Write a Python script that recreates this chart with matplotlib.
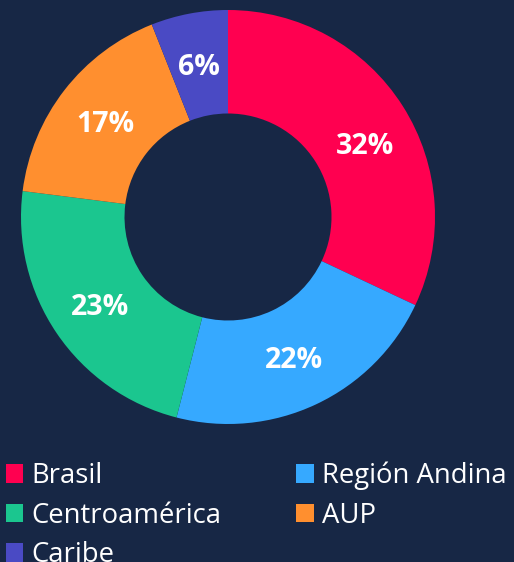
import numpy as np
import matplotlib.pyplot as plt
from matplotlib.patches import Patch

regions = ['Brasil', 'Región Andina', 'Centroamérica', 'AUP', 'Caribe']
shares = [32, 22, 23, 17, 6]
colors = ['#FF0050', '#36A9FF', '#1BC68F', '#FF8F2F', '#4A4AC4']
legend_order = [0, 2, 4, 1, 3]  # column-wise fill for 2 columns

bg = '#172745'
W, H = 514, 562

fig = plt.figure(figsize=(W / 100, H / 100), dpi=100, facecolor=bg)
# donut: centre (228, 217) px, radius 207 px
ax = fig.add_axes([21 / W, (H - 424) / H, 414 / W, 414 / H])
ax.set_facecolor(bg)

wedges, _ = ax.pie(shares, colors=colors, startangle=90, counterclock=False,
                   radius=1, wedgeprops=dict(width=0.5, linewidth=0))
ax.set_xlim(-1, 1)
ax.set_ylim(-1, 1)
ax.set_aspect('equal')
ax.axis('off')

# labels at mid-ring; first one sits a bit lower in the original
nudge = {0: -4.3}
cum = np.cumsum([0] + shares)
for i, v in enumerate(shares):
    mid = 90 - 360 * (cum[i] + v / 2) / 100 + nudge.get(i, 0)
    r = 0.75
    ax.text(r * np.cos(np.radians(mid)), r * np.sin(np.radians(mid)) - 0.015, f'{v}%',
            ha='center', va='center', color='white', fontsize=20.5,
            fontweight='bold', family='Open Sans')

handles = [Patch(facecolor=colors[i], edgecolor='none') for i in legend_order]
labels = [regions[i] for i in legend_order]
fig.legend(handles, labels, ncol=2, loc='upper left', bbox_to_anchor=(0.0, 1 - 456 / H),
           frameon=False, prop=dict(family='Open Sans', size=19.8), labelcolor='white',
           handlelength=0.65, handleheight=0.65, handletextpad=0.3, columnspacing=2.7,
           labelspacing=0.42, borderpad=0.2, borderaxespad=0)

fig.savefig('out.png', dpi=100, facecolor=bg)
